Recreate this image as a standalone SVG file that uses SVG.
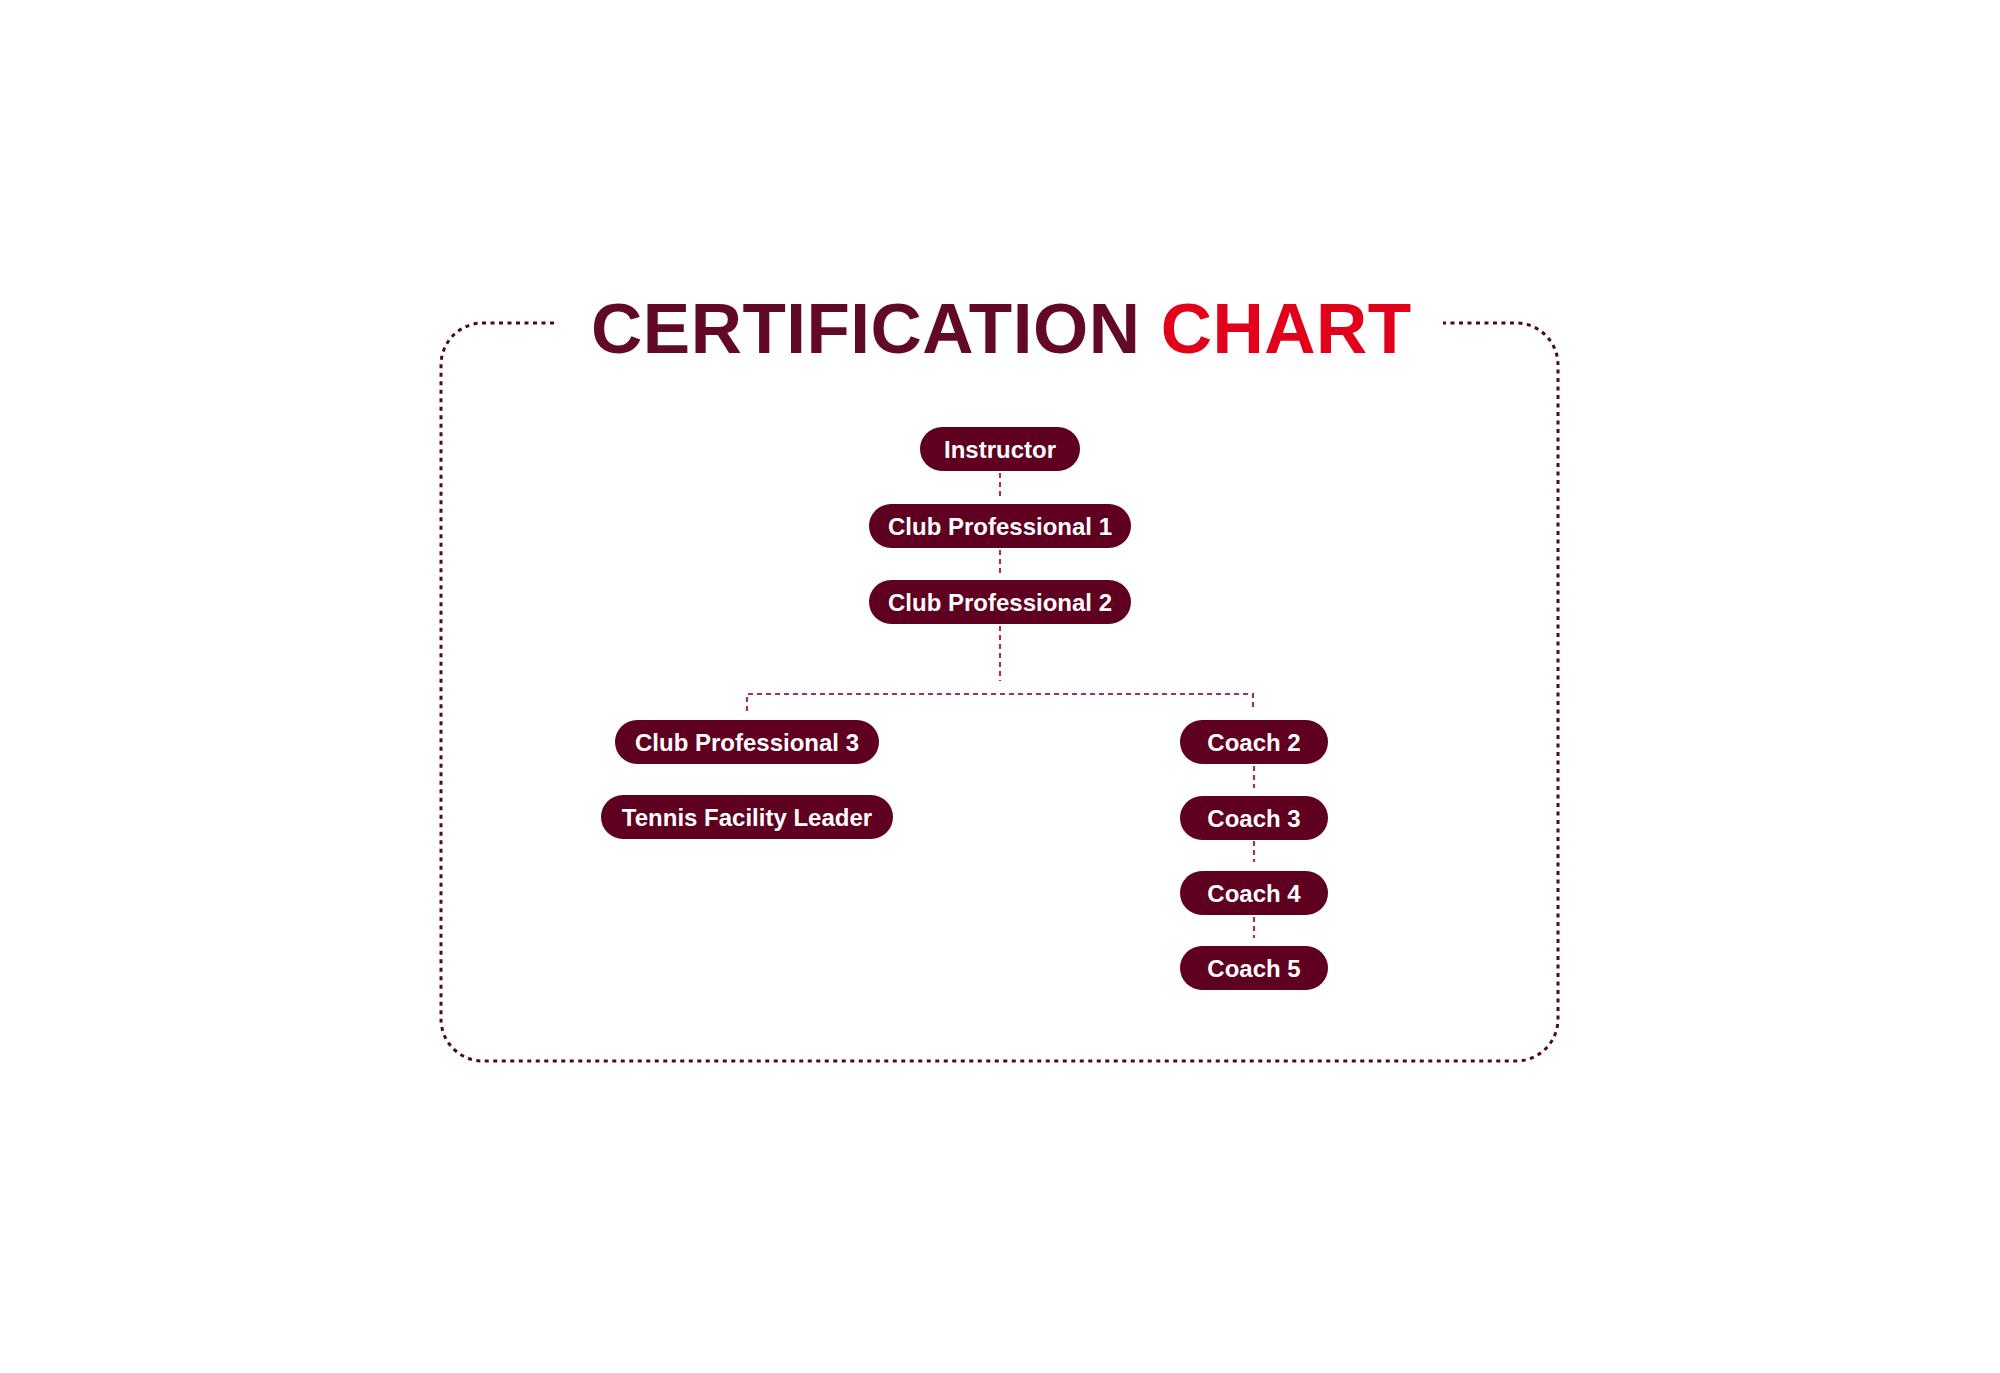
<svg xmlns="http://www.w3.org/2000/svg" width="2000" height="1373" viewBox="0 0 2000 1373">
<style>
.pill{fill:#600020;}
.lbl{font-family:"Liberation Sans",Arial,sans-serif;font-weight:bold;font-size:24px;fill:#ffffff;text-anchor:middle;}
.frame{fill:none;stroke:#4a0b22;stroke-width:3;stroke-dasharray:4 4.5;}
.conn{fill:none;stroke:#a3334f;stroke-width:2.2;stroke-dasharray:5 4;}
.title{font-family:"Liberation Sans",Arial,sans-serif;font-weight:bold;font-size:71px;letter-spacing:0.5px;}
</style>
<rect width="2000" height="1373" fill="#ffffff"/>
<g id="frame">
<path class="frame" d="M554,323 H483 A42,42 0 0 0 441,365 V1019 A42,42 0 0 0 483,1061 H1516 A42,42 0 0 0 1558,1019 V365 A42,42 0 0 0 1516,323 H1443"/>
</g>
<g id="title">
<text class="title" x="591" y="353"><tspan fill="#620928">CERTIFICATION </tspan><tspan fill="#e3001b">CHART</tspan></text>
</g>
<g id="connectors">
<path class="conn" d="M1000,473 V500"/>
<path class="conn" d="M1000,550 V576"/>
<path class="conn" d="M1000,626 V681"/>
<path class="conn" d="M747,711 V694 H1253 V711"/>
<path class="conn" d="M1254,766 V788"/>
<path class="conn" d="M1254,841 V862"/>
<path class="conn" d="M1254,917 V938"/>
</g>
<g id="instructor"><rect class="pill" x="920" y="427" width="160" height="44" rx="22"/><text class="lbl" x="1000" y="457.5">Instructor</text></g>
<g id="club-professional-1"><rect class="pill" x="869" y="504" width="262" height="44" rx="22"/><text class="lbl" x="1000" y="534.5">Club Professional 1</text></g>
<g id="club-professional-2"><rect class="pill" x="869" y="580" width="262" height="44" rx="22"/><text class="lbl" x="1000" y="610.5">Club Professional 2</text></g>
<g id="club-professional-3"><rect class="pill" x="615" y="720" width="264" height="44" rx="22"/><text class="lbl" x="747" y="750.5">Club Professional 3</text></g>
<g id="tennis-facility-leader"><rect class="pill" x="601" y="795" width="292" height="44" rx="22"/><text class="lbl" x="747" y="825.5">Tennis Facility Leader</text></g>
<g id="coach-2"><rect class="pill" x="1180" y="720" width="148" height="44" rx="22"/><text class="lbl" x="1254" y="750.5">Coach 2</text></g>
<g id="coach-3"><rect class="pill" x="1180" y="796" width="148" height="44" rx="22"/><text class="lbl" x="1254" y="826.5">Coach 3</text></g>
<g id="coach-4"><rect class="pill" x="1180" y="871" width="148" height="44" rx="22"/><text class="lbl" x="1254" y="901.5">Coach 4</text></g>
<g id="coach-5"><rect class="pill" x="1180" y="946" width="148" height="44" rx="22"/><text class="lbl" x="1254" y="976.5">Coach 5</text></g>
</svg>
